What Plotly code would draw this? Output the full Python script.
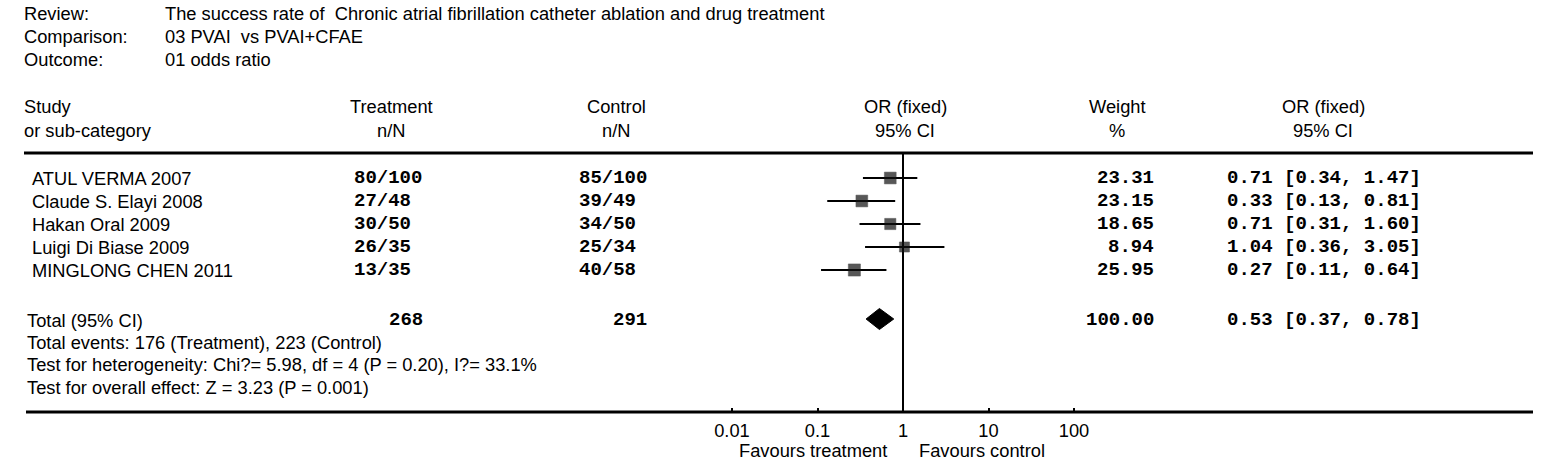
import plotly.graph_objects as go

# ---------------- data ----------------
header_labels = ["Review:", "Comparison:", "Outcome:"]
header_values = ["The success rate of  Chronic atrial fibrillation catheter ablation and drug treatment",
                 "03 PVAI  vs PVAI+CFAE",
                 "01 odds ratio"]
studies = ["ATUL VERMA 2007", "Claude S. Elayi 2008", "Hakan Oral 2009",
           "Luigi Di Biase 2009", "MINGLONG CHEN 2011"]
treat_events = [80, 27, 30, 26, 13]
treat_total = [100, 48, 50, 35, 35]
ctrl_events = [85, 39, 34, 25, 40]
ctrl_total = [100, 49, 50, 34, 58]
weights = [23.31, 23.15, 18.65, 8.94, 25.95]
or_est = [0.71, 0.33, 0.71, 1.04, 0.27]
ci_lo = [0.34, 0.13, 0.31, 0.36, 0.11]
ci_hi = [1.47, 0.81, 1.60, 3.05, 0.64]
total_label = "Total (95% CI)"
total_treat_n = 268
total_ctrl_n = 291
total_weight = 100.00
total_or = 0.53
total_lo = 0.37
total_hi = 0.78
footer_lines = ["Total events: 176 (Treatment), 223 (Control)",
                "Test for heterogeneity: Chi?= 5.98, df = 4 (P = 0.20), I?= 33.1%",
                "Test for overall effect: Z = 3.23 (P = 0.001)"]
tick_vals = [0.01, 0.1, 1, 10, 100]
tick_text = ["0.01", "0.1", "1", "10", "100"]
favours_left = "Favours treatment"
favours_right = "Favours control"

# ---------------- layout constants (pixels) ----------------
W, H = 1559, 461
SANS = "Liberation Sans, Arial, sans-serif"
MONO = "Liberation Mono, Courier New, monospace"
FS = 18.3
FM = 19
x_one = 903.0        # pixel of OR = 1
decade = 85.5        # pixels per decade
log_lo, log_hi = -3, 3
row0, row_step = 178, 23
y_total = 320
y_top_line, y_bot_line = 153, 412

fig = go.Figure()
ann = []

def txt(x, y, s, anchor="left", font=SANS, size=FS, bold=False):
    ann.append(dict(x=x, y=y, xref="x", yref="y", text=("<b>%s</b>" % s) if bold else s,
                    showarrow=False, xanchor=anchor, yanchor="middle",
                    font=dict(family=font, size=size, color="black")))

# header block
for i, (lab, val) in enumerate(zip(header_labels, header_values)):
    yy = 13 + i * 23
    txt(22, yy, lab)
    txt(163, yy, val)

# column headers
txt(22, 106, "Study")
txt(22, 130, "or sub-category")
txt(391, 106, "Treatment", "center")
txt(391, 130, "n/N", "center")
txt(616, 106, "Control", "center")
txt(616, 130, "n/N", "center")
txt(905, 106, "OR (fixed)", "center")
txt(905, 130, "95% CI", "center")
txt(1117, 106, "Weight", "center")
txt(1117, 130, "%", "center")
txt(1323, 106, "OR (fixed)", "center")
txt(1323, 130, "95% CI", "center")

# study rows
row_y = [row0 + i * row_step for i in range(len(studies))]
for i, s in enumerate(studies):
    y = row_y[i]
    txt(30, y, s)
    txt(352, y, "%d/%d" % (treat_events[i], treat_total[i]), "left", MONO, FM, True)
    txt(577, y, "%d/%d" % (ctrl_events[i], ctrl_total[i]), "left", MONO, FM, True)
    txt(1156, y, "%.2f" % weights[i], "right", MONO, FM, True)
    txt(1225, y, "%.2f [%.2f, %.2f]" % (or_est[i], ci_lo[i], ci_hi[i]), "left", MONO, FM, True)

# totals
txt(25, y_total, total_label)
txt(425, y_total, str(total_treat_n), "right", MONO, FM, True)
txt(649, y_total, str(total_ctrl_n), "right", MONO, FM, True)
txt(1156, y_total, "%.2f" % total_weight, "right", MONO, FM, True)
txt(1225, y_total, "%.2f [%.2f, %.2f]" % (total_or, total_lo, total_hi), "left", MONO, FM, True)
for i, line in enumerate(footer_lines):
    txt(25, 342 + i * 22.5, line)

# favours labels (relative to OR = 1)
ann.append(dict(x=0, y=450, xref="x2", yref="y", text=favours_left, showarrow=False,
                xanchor="right", yanchor="middle", xshift=-14,
                font=dict(family=SANS, size=FS, color="black")))
ann.append(dict(x=0, y=450, xref="x2", yref="y", text=favours_right, showarrow=False,
                xanchor="left", yanchor="middle", xshift=14,
                font=dict(family=SANS, size=FS, color="black")))

# horizontal rules
shapes = [
    dict(type="line", xref="x", yref="y", x0=24, x1=1533, y0=y_top_line, y1=y_top_line,
         line=dict(color="black", width=3)),
    dict(type="line", xref="x", yref="y", x0=26, x1=1533, y0=y_bot_line, y1=y_bot_line,
         line=dict(color="black", width=3)),
]

# vertical line at OR = 1
fig.add_trace(go.Scatter(x=[1, 1], y=[y_top_line, y_bot_line], xaxis="x2", yaxis="y",
                         mode="lines", line=dict(color="black", width=2),
                         hoverinfo="skip", showlegend=False))

# study squares with CIs
fig.add_trace(go.Scatter(
    x=or_est, y=row_y, xaxis="x2", yaxis="y", mode="markers",
    marker=dict(symbol="square", size=[9 + 0.12 * w for w in weights], color="#111111",
                line=dict(width=0.5, color="#111111")),
    error_x=dict(type="data", symmetric=False,
                 array=[h - e for h, e in zip(ci_hi, or_est)],
                 arrayminus=[e - l for e, l in zip(or_est, ci_lo)],
                 color="black", thickness=2, width=0),
    showlegend=False, hoverinfo="skip"))

# pooled diamond
dh = 10.5
fig.add_trace(go.Scatter(
    x=[total_lo, total_or, total_hi, total_or, total_lo],
    y=[y_total - 1, y_total - 1 - dh, y_total - 1, y_total - 1 + dh, y_total - 1],
    xaxis="x2", yaxis="y", mode="lines", fill="toself", fillcolor="black",
    line=dict(color="black", width=1), showlegend=False, hoverinfo="skip"))

dom0 = (x_one + decade * log_lo) / W
dom1 = (x_one + decade * log_hi) / W

fig.update_layout(
    width=W, height=H, margin=dict(l=0, r=0, t=0, b=0),
    paper_bgcolor="white", plot_bgcolor="white",
    xaxis=dict(range=[0, W], domain=[0, 1], visible=False, fixedrange=True),
    yaxis=dict(range=[H, 0], domain=[0, 1], visible=False, fixedrange=True),
    xaxis2=dict(type="log", range=[log_lo, log_hi], domain=[dom0, dom1],
                anchor="free", position=(H - y_bot_line) / H,
                showgrid=False, zeroline=False, showline=False,
                ticks="inside", ticklen=4, tickwidth=2, tickcolor="black",
                tickvals=tick_vals, ticktext=tick_text, ticklabelstandoff=6,
                tickfont=dict(family=SANS, size=FS, color="black"), fixedrange=True),
    annotations=ann, shapes=shapes, showlegend=False,
)

fig.write_html("out.html", config={"displayModeBar": False},
               post_script="document.body.style.margin='0';document.body.style.overflow='hidden';")
